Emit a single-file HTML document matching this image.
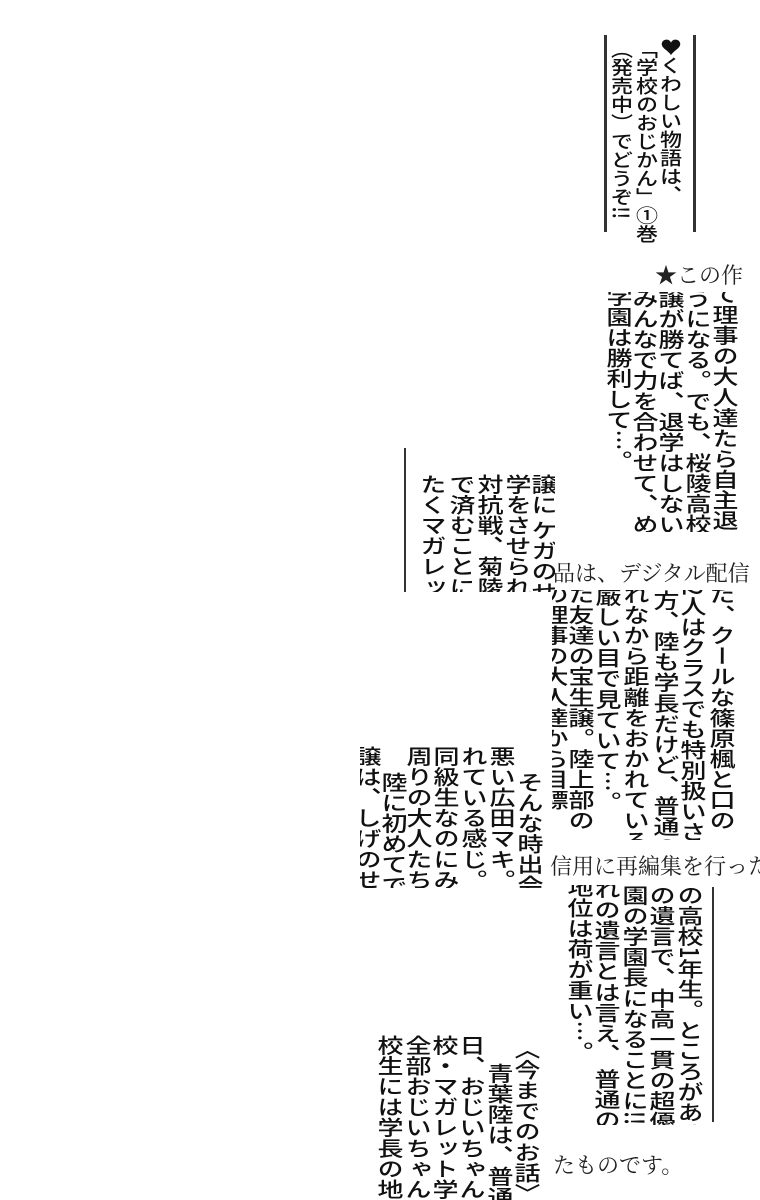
<!DOCTYPE html>
<html><head><meta charset="utf-8"><style>
body{margin:0;background:#fff;}
#p{position:relative;width:760px;height:1200px;overflow:hidden;background:#fff;font-family:"Noto Sans CJK JP","WenQuanYi Zen Hei",sans-serif;color:#111;}
.c{position:absolute;writing-mode:vertical-rl;white-space:nowrap;font-size:26px;line-height:26px;font-weight:500;transform:scaleY(0.79);transform-origin:top left;margin-left:-1px;}
.s{font-size:22px;line-height:22px;font-weight:500;transform:scaleY(0.84);}
.h{position:absolute;white-space:nowrap;font-family:"Noto Serif CJK SC","Liberation Serif",serif;font-size:22px;line-height:26px;color:#222;}
.l{position:absolute;background:#333;}
.box{position:absolute;overflow:hidden;background:#fff;}
</style></head><body><div id="p">
<div class="l" style="left:604px;top:35px;width:3px;height:197px"></div>
<div class="l" style="left:693px;top:35px;width:3px;height:197px"></div>
<div class="c s" style="left:661px;top:38px">♥くわしい物語は、</div>
<div class="c s" style="left:637px;top:40px">「学校のおじかん」①巻</div>
<div class="c s" style="left:612px;top:40px">（発売中）でどうぞ!!</div>

<div class="h" style="left:655px;top:262px">★この作</div>

<div class="box" style="left:590px;top:292px;width:170px;height:240px">
<div class="l" style="left:-2px;top:2px;width:2px;height:236px"></div>
<div class="c" style="left:123px;top:-8px">て理事の大人達たら自主退</div>
<div class="c" style="left:96px;top:-4px">うになる。でも、桜陵高校との</div>
<div class="c" style="left:69px;top:-4px">譲が勝てば、退学はしない</div>
<div class="c" style="left:43px;top:-4px">みんなで力を合わせて、めで</div>
<div class="c" style="left:17px;top:-6px">学園は勝利して…。</div>
</div>

<div class="box" style="left:400px;top:440px;width:155px;height:152px">
<div class="l" style="left:4px;top:8px;width:2px;height:144px"></div>
<div class="c" style="left:132px;top:34px">譲に ケガのせ</div>
<div class="c" style="left:106px;top:34px">学をさせられそう</div>
<div class="c" style="left:78px;top:34px">対抗戦、菊陵戦で</div>
<div class="c" style="left:50px;top:34px">で済むことに。み</div>
<div class="c" style="left:21px;top:34px">たくマガレット学</div>
</div>

<div class="h" style="left:553px;top:560px">品は、デジタル配信</div>

<div class="box" style="left:552px;top:590px;width:208px;height:250px">
<div class="c" style="left:158px;top:-6px">た、クールな篠原楓と口の</div>
<div class="c" style="left:129px;top:-6px">2人はクラスでも特別扱いさ</div>
<div class="c" style="left:102px;top:0px">方、陸も学長だけど、普通の</div>
<div class="c" style="left:72px;top:-6px">れなから距離をおかれている。</div>
<div class="c" style="left:44px;top:-4px">厳しい目で見ていて…。</div>
<div class="c" style="left:17px;top:-6px">た友達の宝生譲。陸上部の</div>
<div class="c" style="left:-9px;top:-6px">の理事の大人達から目標</div>
</div>

<div class="box" style="left:360px;top:740px;width:192px;height:148px">
<div class="c" style="left:158px;top:32px">そんな時出会っ</div>
<div class="c" style="left:130px;top:6px">悪い広田マキ。っ</div>
<div class="c" style="left:102px;top:6px">れている感じ。一</div>
<div class="c" style="left:74px;top:6px">同級生なのにみん</div>
<div class="c" style="left:47px;top:6px">周りの大人たちも</div>
<div class="c" style="left:22px;top:32px">陸に初めてでき</div>
<div class="c" style="left:-4px;top:6px">譲は、しげのせい</div>
</div>

<div class="h" style="left:550px;top:853px">信用に再編集を行った</div>

<div class="box" style="left:552px;top:885px;width:208px;height:240px">
<div class="l" style="left:160px;top:2px;width:2px;height:235px"></div>
<div class="c" style="left:126px;top:0px">の高校1年生。ところがある</div>
<div class="c" style="left:98px;top:0px">の遺言で、中高一貫の超優秀</div>
<div class="c" style="left:71px;top:0px">園の学園長になることに!!</div>
<div class="c" style="left:43px;top:-6px">れの遺言とは言え、 普通の高</div>
<div class="c" style="left:16px;top:-8px">地位は荷が重い…。</div>
</div>

<div class="box" style="left:360px;top:1035px;width:192px;height:165px">
<div class="c" style="left:155px;top:4px">〈今までのお話〉</div>
<div class="c" style="left:128px;top:28px">青葉陸は、普通</div>
<div class="c" style="left:100px;top:0px">日、おじいちゃん</div>
<div class="c" style="left:73px;top:0px">校・マガレット学</div>
<div class="c" style="left:46px;top:0px">全部おじいちゃん</div>
<div class="c" style="left:18px;top:0px">校生には学長の地</div>
</div>

<div class="h" style="left:553px;top:1152px">たものです。</div>
</div></body></html>
